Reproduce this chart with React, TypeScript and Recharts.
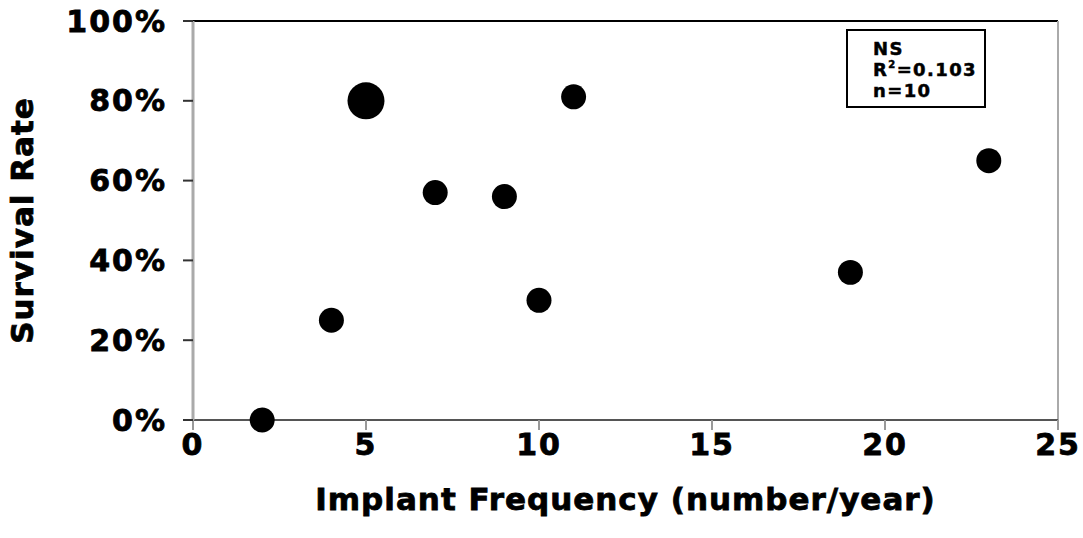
import React from 'react';
import {
  ScatterChart,
  Scatter,
  XAxis,
  YAxis,
  ZAxis,
  ReferenceLine,
  Label
} from 'recharts';

// implants per year for each centre
const frequency = [2, 4, 5, 7, 9, 10, 11, 19, 23];
// survival rate (fraction)
const survival = [0.0, 0.25, 0.8, 0.57, 0.56, 0.3, 0.81, 0.37, 0.65];
// how many centres sit on the same point (the big dot is two)
const centres = [1, 1, 2, 1, 1, 1, 1, 1, 1];

const xTicks = [0, 5, 10, 15, 20, 25];
const yTicks = [0, 0.2, 0.4, 0.6, 0.8, 1];

const statLines = ['NS', 'R²=0.103', 'n=10'];

const font = '"DejaVu Sans", Verdana, sans-serif';

const points = frequency.map((x, i) => ({ x, y: survival[i], z: centres[i] }));

// a thin outline makes DejaVu Bold look closer to the heavier Verdana Bold
const heavy = { stroke: '#000', strokeWidth: 0.8 };

export default function App() {
  const tickStyle = { fill: '#000', fontSize: 30, fontWeight: 700, fontFamily: font, letterSpacing: 2, ...heavy };

  return (
    <div style={{ position: 'absolute', left: 0, top: 0, width: 1083, height: 538, background: '#fff' }}>
      <ScatterChart width={1083} height={538} margin={{ top: 21, right: 25, bottom: 0, left: 0 }}>
        <XAxis
          type="number"
          dataKey="x"
          domain={[0, 25]}
          ticks={xTicks}
          height={118}
          tickSize={10}
          tickMargin={4}
          stroke="#555"
          strokeWidth={2}
          tick={tickStyle}
          tickLine={{ stroke: '#999', strokeWidth: 2 }}
        >
          <Label
            value="Implant Frequency (number/year)"
            position="insideBottom"
            offset={28}
            style={{ fill: '#000', fontSize: 31, fontWeight: 700, fontFamily: font, letterSpacing: 1, ...heavy }}
          />
        </XAxis>
        <YAxis
          type="number"
          dataKey="y"
          domain={[0, 1]}
          ticks={yTicks}
          width={193}
          tickSize={10}
          tickMargin={16}
          axisLine={{ stroke: '#aaa', strokeWidth: 3 }}
          tickLine={{ stroke: '#333', strokeWidth: 2 }}
          tick={tickStyle}
          tickFormatter={(v: number) => `${Math.round(v * 100)}%`}
        >
          <Label
            value="Survival Rate"
            angle={-90}
            position="insideLeft"
            offset={22}
            style={{
              fill: '#000',
              fontSize: 31,
              fontWeight: 700,
              fontFamily: font,
              letterSpacing: 1,
              textAnchor: 'middle',
              ...heavy
            }}
          />
        </YAxis>
        <ZAxis type="number" dataKey="z" domain={[1, 2]} range={[490, 1075]} />
        <ReferenceLine y={1} stroke="#000" strokeWidth={2} />
        <ReferenceLine x={25} stroke="#aaa" strokeWidth={2} />
        <Scatter data={points} fill="#000" isAnimationActive={false} />
      </ScatterChart>
      <div
        style={{
          position: 'absolute',
          left: 846,
          top: 29,
          width: 140,
          height: 79,
          border: '2px solid #000',
          boxSizing: 'border-box',
          padding: '7px 0 0 25px',
          fontFamily: font,
          fontWeight: 700,
          fontSize: 18,
          letterSpacing: 1.4,
          lineHeight: '21px',
          color: '#000',
          WebkitTextStroke: '0.5px #000'
        }}
      >
        {statLines.map((s) =>
          s.startsWith('R²') ? (
            <div key={s}>
              R<sup style={{ fontSize: 10, verticalAlign: 'top', lineHeight: '12px' }}>2</sup>
              {s.slice(2)}
            </div>
          ) : (
            <div key={s}>{s}</div>
          )
        )}
      </div>
    </div>
  );
}
